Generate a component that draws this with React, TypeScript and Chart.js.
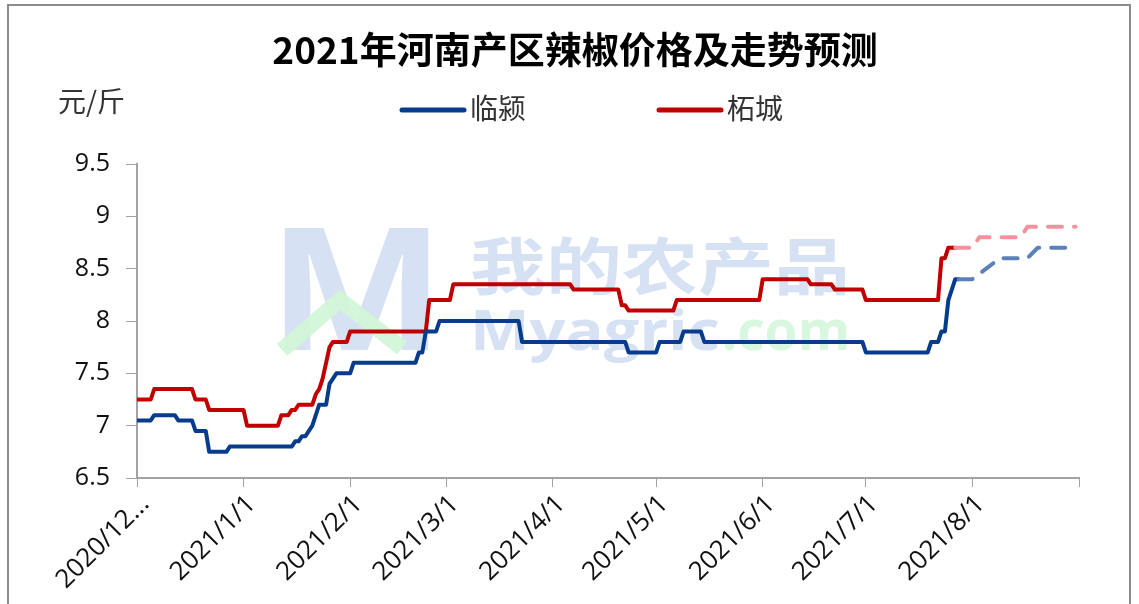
import React, { useEffect, useRef } from 'react';
import { Chart, registerables } from 'chart.js';

Chart.register(...registerables);

const TITLE = '2021年河南产区辣椒价格及走势预测';
const UNIT_LABEL = '元/斤';
const SERIES_NAMES = ['临颍', '柘城'];

// x axis: days counted from 2020/12/1
const MONTH_TICK_DAYS = [0, 31, 62, 90, 121, 151, 182, 212, 243, 274];
const MONTH_TICK_LABELS = ['2020/12...', '2021/1/1', '2021/2/1', '2021/3/1', '2021/4/1', '2021/5/1', '2021/6/1', '2021/7/1', '2021/8/1', ''];
const X_MIN = 0;
const X_MAX = 274;
const Y_MIN = 6.5;
const Y_MAX = 9.5;
const Y_STEP = 0.5;

// 临颍 (vertices of the daily price line)
const linyingDays = [0, 4, 5, 11, 12, 16, 17, 20, 21, 26, 27, 45, 46, 47, 48, 49, 50, 51, 52, 53, 55, 56, 57, 58, 62, 63, 81, 82, 83, 84, 87, 88, 111, 112, 142, 143, 151, 152, 158, 159, 164, 165, 211, 212, 230, 231, 233, 234, 235, 236, 237, 238, 239, 243, 247, 251, 259, 262, 271];
const linyingValues = [7.05, 7.05, 7.1, 7.1, 7.05, 7.05, 6.95, 6.95, 6.75, 6.75, 6.8, 6.8, 6.85, 6.85, 6.9, 6.9, 6.95, 7.0, 7.1, 7.2, 7.2, 7.4, 7.45, 7.5, 7.5, 7.6, 7.6, 7.7, 7.7, 7.9, 7.9, 8.0, 8.0, 7.8, 7.8, 7.7, 7.7, 7.8, 7.8, 7.9, 7.9, 7.8, 7.8, 7.7, 7.7, 7.8, 7.8, 7.9, 7.9, 8.2, 8.3, 8.4, 8.4, 8.4, 8.5, 8.6, 8.6, 8.7, 8.7];
const linyingForecastFrom = 239;

// 柘城
const zhechengDays = [0, 4, 5, 16, 17, 20, 21, 31, 32, 41, 42, 44, 45, 46, 47, 51, 52, 53, 54, 55, 56, 57, 61, 62, 84, 85, 91, 92, 126, 127, 140, 141, 142, 143, 156, 157, 181, 182, 195, 196, 202, 203, 211, 212, 233, 234, 235, 236, 238, 243, 245, 257, 259, 273];
const zhechengValues = [7.25, 7.25, 7.35, 7.35, 7.25, 7.25, 7.15, 7.15, 7.0, 7.0, 7.1, 7.1, 7.15, 7.15, 7.2, 7.2, 7.3, 7.35, 7.45, 7.6, 7.75, 7.8, 7.8, 7.9, 7.9, 8.2, 8.2, 8.35, 8.35, 8.3, 8.3, 8.15, 8.15, 8.1, 8.1, 8.2, 8.2, 8.4, 8.4, 8.35, 8.35, 8.3, 8.3, 8.2, 8.2, 8.6, 8.6, 8.7, 8.7, 8.7, 8.8, 8.8, 8.9, 8.9];
const zhechengForecastFrom = 238;

const BLUE = '#073B8C';
const BLUE_FORECAST = '#5B80BA';
const RED = '#C00000';
const RED_FORECAST = '#F2929E';
const AXIS_GRAY = '#A3A3A3';
const CJK = '"Noto Sans CJK SC", "Noto Sans", sans-serif';
const LATIN = '"Open Sans", "DejaVu Sans", sans-serif';

const decorPlugin = {
  id: 'decor',
  beforeDraw(chart: any) {
    const ctx = chart.ctx;
    ctx.save();
    ctx.fillStyle = '#ffffff';
    ctx.fillRect(0, 0, chart.width, chart.height);
    ctx.restore();
  },
  beforeDatasetsDraw(chart: any) {
    const ctx = chart.ctx;
    ctx.save();
    // watermark logo "M"
    ctx.fillStyle = 'rgba(196, 212, 240, 0.7)';
    ctx.font = `bold 170px ${LATIN}`;
    ctx.textBaseline = 'alphabetic';
    ctx.textAlign = 'left';
    const mw = ctx.measureText('M').width;
    ctx.save();
    ctx.translate(268, 350);
    ctx.scale(177 / mw, 1);
    ctx.fillText('M', 0, 0);
    ctx.restore();
    ctx.strokeStyle = 'rgba(210, 245, 216, 0.95)';
    ctx.lineWidth = 16;
    ctx.lineJoin = 'miter';
    ctx.beginPath();
    ctx.moveTo(282, 350);
    ctx.lineTo(340, 300);
    ctx.lineTo(402, 348);
    ctx.stroke();
    // watermark texts
    ctx.fillStyle = 'rgba(196, 212, 240, 0.7)';
    ctx.font = `bold 62px ${CJK}`;
    const t1 = '我的农产品';
    const w1 = ctx.measureText(t1).width;
    ctx.save();
    ctx.translate(470, 290);
    ctx.scale(380 / w1, 1);
    ctx.fillText(t1, 0, 0);
    ctx.restore();
    ctx.font = `bold 56px ${LATIN}`;
    const t2 = 'Myagric';
    const w2 = ctx.measureText(t2).width;
    ctx.save();
    ctx.translate(470, 350);
    ctx.scale(250 / w2, 1);
    ctx.fillText(t2, 0, 0);
    ctx.restore();
    ctx.fillStyle = 'rgba(212, 246, 218, 0.9)';
    const t3 = '.com';
    const w3 = ctx.measureText(t3).width;
    ctx.save();
    ctx.translate(722, 350);
    ctx.scale(128 / w3, 1);
    ctx.fillText(t3, 0, 0);
    ctx.restore();
    ctx.restore();
  },
  afterDraw(chart: any) {
    const ctx = chart.ctx;
    ctx.save();
    // outer frame
    ctx.strokeStyle = '#8C8C8C';
    ctx.lineWidth = 2;
    ctx.strokeRect(8, 5, 1122, 700);
    // title
    ctx.fillStyle = '#000000';
    ctx.font = `bold 37px ${CJK}`;
    ctx.textAlign = 'center';
    ctx.textBaseline = 'middle';
    ctx.fillText(TITLE, 575, 50);
    // unit
    ctx.fillStyle = '#333333';
    ctx.font = `28px ${CJK}`;
    ctx.textAlign = 'left';
    ctx.fillText(UNIT_LABEL, 58, 101);
    // legend
    const items = [
      { x: 402, color: BLUE, name: SERIES_NAMES[0] },
      { x: 659, color: RED, name: SERIES_NAMES[1] },
    ];
    items.forEach((it) => {
      ctx.strokeStyle = it.color;
      ctx.lineWidth = 5;
      ctx.lineCap = 'round';
      ctx.beginPath();
      ctx.moveTo(it.x, 110);
      ctx.lineTo(it.x + 62, 110);
      ctx.stroke();
      ctx.fillStyle = '#333333';
      ctx.fillText(it.name, it.x + 68, 108);
    });
    ctx.restore();
  },
};

function makeSeries(days: number[], values: number[]) {
  return days.map((d, i) => ({ x: d, y: values[i] }));
}

export default function App() {
  const canvasRef = useRef<HTMLCanvasElement | null>(null);

  useEffect(() => {
    const canvas = canvasRef.current;
    if (!canvas) return;
    const chart = new Chart(canvas, {
      type: 'line',
      data: {
        datasets: [
          {
            label: SERIES_NAMES[0],
            data: makeSeries(linyingDays, linyingValues),
            borderColor: BLUE,
            borderWidth: 4,
            pointRadius: 0,
            tension: 0,
            borderCapStyle: 'round',
            borderJoinStyle: 'round',
            segment: {
              borderColor: (c: any) => (c.p0.parsed.x >= linyingForecastFrom ? BLUE_FORECAST : BLUE),
              borderDash: (c: any) => (c.p0.parsed.x >= linyingForecastFrom ? [14, 12] : undefined),
            },
          },
          {
            label: SERIES_NAMES[1],
            data: makeSeries(zhechengDays, zhechengValues),
            borderColor: RED,
            borderWidth: 4,
            pointRadius: 0,
            tension: 0,
            borderCapStyle: 'round',
            borderJoinStyle: 'round',
            segment: {
              borderColor: (c: any) => (c.p0.parsed.x >= zhechengForecastFrom ? RED_FORECAST : RED),
              borderDash: (c: any) => (c.p0.parsed.x >= zhechengForecastFrom ? [14, 12] : undefined),
            },
          },
        ],
      },
      options: {
        responsive: false,
        animation: false,
        devicePixelRatio: 1,
        layout: { padding: { left: 0, right: 60, top: 164, bottom: 0 } },
        plugins: {
          legend: { display: false },
          title: { display: false },
          tooltip: { enabled: false },
        },
        scales: {
          x: {
            type: 'linear',
            min: X_MIN,
            max: X_MAX,
            afterBuildTicks: (scale: any) => {
              scale.ticks = MONTH_TICK_DAYS.map((v) => ({ value: v }));
            },
            afterFit: (scale: any) => {
              scale.height = 126;
            },
            ticks: {
              autoSkip: false,
              minRotation: 45,
              maxRotation: 45,
              padding: 2,
              labelOffset: 8,
              color: '#111111',
              font: { family: LATIN, size: 26 },
              callback: (v: any) => {
                const i = MONTH_TICK_DAYS.indexOf(Number(v));
                return i >= 0 ? MONTH_TICK_LABELS[i] : '';
              },
            },
            grid: { drawOnChartArea: false, drawTicks: true, tickLength: 9, color: AXIS_GRAY },
            border: { color: AXIS_GRAY, width: 2 },
          },
          y: {
            min: Y_MIN,
            max: Y_MAX,
            afterFit: (scale: any) => {
              scale.width = 137;
            },
            ticks: {
              stepSize: Y_STEP,
              padding: 16,
              color: '#111111',
              font: { family: LATIN, size: 25 },
              callback: (v: any) => String(Number(v)),
            },
            grid: { drawOnChartArea: false, drawTicks: true, tickLength: 11, color: AXIS_GRAY },
            border: { color: AXIS_GRAY, width: 2 },
          },
        },
      } as any,
      plugins: [decorPlugin],
    });
    return () => chart.destroy();
  }, []);

  return (
    <div style={{ position: 'absolute', left: 0, top: 0, width: 1139, height: 604, background: '#fff' }}>
      <canvas ref={canvasRef} width={1139} height={604} style={{ display: 'block' }} />
    </div>
  );
}
